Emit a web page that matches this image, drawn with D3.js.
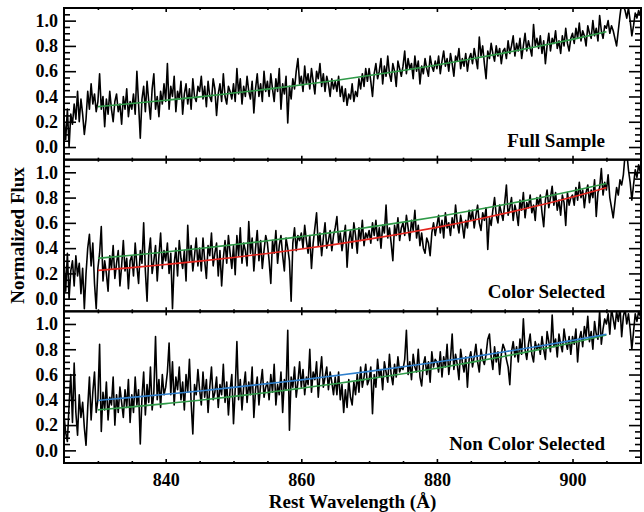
<!DOCTYPE html>
<html>
<head>
<meta charset="utf-8">
<script src="https://cdn.jsdelivr.net/npm/d3@7"></script>
<style>
  body { margin: 0; background: #fff; }
  svg { display: block; }
</style>
</head>
<body>
<svg id="chart" width="644" height="512"></svg>
<script>
// Stacked composite spectra: wavelength grid starts at 825 Å with 0.25 Å bins
const waveStart = 825;
const waveStep = 0.25;

const fullFlux = [
  0.22,0.06,0.30,0.00,0.26,0.18,0.34,0.22,0.44,0.20,0.38,0.26,0.10,0.22,0.44,0.30,0.50,0.34,0.42,0.28,
  0.36,0.58,0.30,0.40,0.16,0.38,0.26,0.44,0.30,0.20,0.36,0.42,0.28,0.34,0.18,0.40,0.30,0.46,0.24,0.36,
  0.30,0.42,0.26,0.60,0.34,0.07,0.38,0.48,0.28,0.52,0.36,0.22,0.46,0.58,0.30,0.40,0.24,0.44,0.34,0.50,
  0.36,0.66,0.30,0.48,0.40,0.56,0.28,0.44,0.38,0.52,0.26,0.42,0.50,0.34,0.46,0.30,0.54,0.40,0.36,0.48,
  0.44,0.56,0.38,0.48,0.32,0.52,0.40,0.36,0.54,0.46,0.25,0.42,0.50,0.36,0.58,0.40,0.34,0.48,0.44,0.38,
  0.50,0.36,0.62,0.42,0.54,0.34,0.48,0.40,0.56,0.44,0.38,0.52,0.27,0.46,0.58,0.40,0.50,0.36,0.60,0.44,
  0.52,0.40,0.58,0.46,0.36,0.54,0.44,0.62,0.30,0.50,0.42,0.56,0.19,0.48,0.38,0.54,0.46,0.60,0.70,0.50,
  0.56,0.44,0.64,0.50,0.58,0.46,0.62,0.52,0.42,0.60,0.54,0.66,0.48,0.58,0.44,0.56,0.50,0.40,0.54,0.46,
  0.52,0.44,0.56,0.40,0.48,0.36,0.46,0.33,0.42,0.38,0.50,0.36,0.44,0.40,0.54,0.46,0.58,0.48,0.62,0.52,
  0.62,0.52,0.40,0.58,0.66,0.54,0.60,0.70,0.50,0.64,0.56,0.72,0.58,0.52,0.66,0.60,0.48,0.68,0.62,0.56,
  0.64,0.76,0.58,0.70,0.62,0.66,0.54,0.72,0.60,0.68,0.50,0.64,0.58,0.70,0.62,0.56,0.72,0.64,0.60,0.68,
  0.62,0.72,0.58,0.68,0.76,0.64,0.70,0.60,0.74,0.66,0.56,0.72,0.68,0.78,0.62,0.70,0.64,0.74,0.60,0.70,
  0.74,0.66,0.78,0.70,0.62,0.87,0.72,0.80,0.66,0.54,0.76,0.70,0.82,0.74,0.68,0.80,0.72,0.78,0.66,0.76,
  0.78,0.70,0.84,0.74,0.80,0.88,0.72,0.82,0.76,0.86,0.70,0.80,0.90,0.76,0.84,0.78,0.72,0.97,0.80,0.86,
  0.78,0.88,0.74,0.84,0.66,0.80,0.90,0.76,0.86,0.82,0.92,0.78,0.84,0.74,0.88,0.80,0.94,0.82,0.76,0.86,
  0.90,0.82,0.94,0.86,0.98,0.84,0.92,0.88,0.80,0.96,0.90,0.86,1.00,0.88,0.94,0.84,1.04,0.92,0.86,0.96,
  0.94,1.00,0.90,0.96,0.92,0.86,0.80,0.92,1.04,1.14,1.12,1.08,1.02,1.10,1.00,0.88,0.96,1.06,1.02,1.08,
  1.04
];

const colorFlux = [
  0.30,0.06,0.36,0.00,0.22,0.30,0.10,0.34,0.18,0.28,0.04,0.24,-0.08,0.20,0.40,0.51,0.26,0.44,0.12,-0.08,
  0.24,0.36,0.57,0.14,0.30,0.20,0.06,0.34,0.24,0.42,0.16,0.28,0.38,0.10,0.26,0.46,0.22,0.32,0.08,0.30,
  0.34,0.18,0.44,0.26,0.12,0.38,0.28,0.60,0.22,-0.02,0.36,0.48,0.20,0.30,0.42,0.14,0.34,0.52,0.24,0.38,
  0.30,0.44,0.20,0.36,-0.08,0.28,0.40,0.18,0.46,0.32,0.24,0.38,0.14,0.58,0.30,0.42,0.22,0.34,0.48,0.26,
  0.40,0.22,0.48,0.30,0.16,0.42,0.34,0.52,0.26,0.36,0.44,0.18,0.38,0.10,0.32,0.46,0.28,0.50,0.36,0.24,
  0.42,0.19,0.50,0.34,0.56,0.28,0.44,0.38,0.26,0.61,0.36,0.48,0.22,0.40,0.54,0.30,0.46,0.24,0.38,0.50,
  0.44,0.30,0.12,0.46,0.36,0.54,0.28,0.42,0.50,0.34,0.22,0.48,0.40,0.30,-0.02,0.44,0.56,0.38,0.50,0.46,
  0.52,0.40,0.58,0.46,0.36,0.50,0.24,0.44,0.56,0.68,0.42,0.52,0.34,0.48,0.60,0.40,0.46,0.54,0.38,0.50,
  0.56,0.65,0.44,0.52,0.38,0.48,0.58,0.25,0.46,0.54,0.40,0.60,0.50,0.36,0.56,0.46,0.62,0.42,0.52,0.48,
  0.54,0.44,0.60,0.50,0.62,0.46,0.56,0.40,0.58,0.52,0.74,0.48,0.56,0.44,0.30,0.58,0.50,0.64,0.46,0.56,
  0.60,0.50,0.66,0.56,0.46,0.62,0.54,0.70,0.48,0.58,0.42,0.52,0.40,0.36,0.48,0.44,0.34,0.52,0.60,0.50,
  0.58,0.66,0.52,0.62,0.48,0.68,0.56,0.60,0.50,0.64,0.56,0.74,0.60,0.52,0.66,0.58,0.48,0.62,0.56,0.70,
  0.62,0.70,0.56,0.66,0.74,0.60,0.54,0.68,0.62,0.72,0.39,0.64,0.58,0.70,0.80,0.66,0.60,0.74,0.68,0.62,
  0.76,0.90,0.66,0.72,0.80,0.62,0.74,0.68,0.58,0.78,0.70,0.84,0.64,0.76,0.72,0.82,0.68,0.74,0.62,0.80,
  0.74,0.82,0.68,0.57,0.78,0.86,0.72,0.80,0.89,0.74,0.84,0.70,0.78,0.66,0.82,0.76,0.58,0.84,0.74,0.80,
  0.82,0.74,0.88,0.78,0.92,0.80,0.86,0.72,0.84,0.90,0.76,0.86,0.80,0.94,0.65,0.84,0.88,1.03,0.82,0.92,
  0.86,0.98,0.80,0.72,0.64,0.76,0.88,0.82,0.94,0.90,0.98,1.14,1.16,1.02,0.92,0.78,0.90,1.02,0.96,1.06,
  1.00
];

const nonColorFlux = [
  0.28,0.14,0.07,0.36,0.60,0.22,0.69,0.30,0.12,0.44,0.26,0.38,0.18,0.04,0.34,0.58,0.24,0.46,0.62,0.30,
  0.40,0.84,0.15,0.46,0.32,0.54,0.24,0.42,0.36,0.58,0.20,0.44,0.30,0.50,0.38,0.26,0.48,0.34,0.56,0.22,
  0.44,0.30,0.58,0.36,0.48,0.05,0.42,0.62,0.28,0.52,0.38,0.66,0.32,0.46,0.90,0.40,0.56,0.34,0.60,0.44,
  0.50,0.62,0.85,0.44,0.70,0.36,0.58,0.48,0.66,0.40,0.54,0.32,0.60,0.46,0.72,0.38,0.13,0.52,0.44,0.64,
  0.48,0.36,0.62,0.42,0.56,0.30,0.50,0.66,0.40,0.46,0.58,0.34,0.52,0.44,0.68,0.38,0.54,0.28,0.48,0.60,
  0.21,0.48,0.86,0.40,0.56,0.32,0.50,0.62,0.38,0.54,0.44,0.66,0.26,0.48,0.58,0.36,0.52,0.64,0.42,0.50,
  0.54,0.40,0.60,0.46,0.68,0.36,0.52,0.44,0.62,0.30,0.56,0.48,0.95,0.16,0.58,0.50,0.66,0.42,0.54,0.70,
  0.50,0.64,0.44,0.58,0.52,0.80,0.46,0.62,0.56,0.70,0.42,0.60,0.74,0.50,0.58,0.66,0.48,0.62,0.54,0.44,
  0.58,0.44,0.62,0.40,0.52,0.30,0.48,0.34,0.56,0.42,0.36,0.54,0.44,0.60,0.46,0.66,0.50,0.58,0.68,0.52,
  0.56,0.66,0.29,0.60,0.50,0.72,0.58,0.64,0.48,0.70,0.62,0.54,0.76,0.60,0.52,0.68,0.58,0.74,0.62,0.66,
  0.64,0.72,0.95,0.60,0.70,0.56,0.76,0.66,0.62,0.80,0.58,0.51,0.68,0.74,0.60,0.70,0.54,0.78,0.66,0.72,
  0.70,0.62,0.78,0.58,0.74,0.66,0.84,0.60,0.72,0.92,0.64,0.76,0.68,0.56,0.80,0.70,0.62,0.74,0.50,0.72,
  0.78,0.66,0.74,0.84,0.70,0.62,0.80,0.72,0.68,0.76,0.88,0.92,0.74,0.64,0.82,0.70,0.78,0.60,0.76,0.84,
  0.80,0.72,0.66,0.52,0.78,0.86,0.74,0.82,0.70,0.88,0.76,1.04,0.80,0.72,0.84,0.92,0.76,0.70,0.86,0.80,
  0.84,0.76,0.90,0.80,0.72,0.94,0.86,0.78,1.07,0.82,0.88,0.74,0.92,0.84,0.78,0.96,0.86,0.80,0.90,0.76,
  0.90,0.84,0.96,0.70,0.88,0.94,0.82,0.98,0.90,1.06,0.86,0.94,0.80,1.02,0.92,0.88,1.10,0.84,0.96,1.04,
  1.00,1.08,0.92,1.12,1.04,0.96,1.10,1.02,1.14,0.90,1.06,1.12,1.00,1.08,0.96,0.80,0.94,1.08,1.02,1.10,
  1.06
];

// Continuum fits, sampled every 5 Å
const fitWave     = [830,835,840,845,850,855,860,865,870,875,880,885,890,895,900,905];
const fitAll      = [0.320,0.344,0.370,0.397,0.427,0.458,0.492,0.527,0.566,0.606,0.649,0.696,0.745,0.797,0.852,0.912];
const fitColor    = [0.224,0.246,0.271,0.297,0.326,0.358,0.393,0.430,0.471,0.516,0.564,0.617,0.675,0.737,0.805,0.879];
const fitNonColor = [0.395,0.419,0.444,0.470,0.498,0.528,0.558,0.591,0.625,0.661,0.699,0.738,0.780,0.824,0.870,0.918];

const panelLabels = ["Full Sample", "Color Selected", "Non Color Selected"];
const yMajorTicks = [0, 0.2, 0.4, 0.6, 0.8, 1.0];
const xMajorTicks = [840, 860, 880, 900];

const GREEN = "#2f9a48", RED = "#e3251e", BLUE = "#2f7fcc";
const FONT = "'Liberation Serif','Times New Roman',Times,serif";

const svg = d3.select("#chart");
const plotLeft = 64, plotRight = 641, plotTop = 8, plotBottom = 463;
const panelH = (plotBottom - plotTop) / 3;

const x = d3.scaleLinear().domain([825, 910.1]).range([plotLeft, plotRight]);

const yMinor = d3.range(-0.05, 1.0501, 0.05).map(v => +v.toFixed(2)).filter(v => !yMajorTicks.includes(v));
const xMinor = d3.range(830, 910.01, 5).filter(v => !xMajorTicks.includes(v));

const panels = [
  { flux: fullFlux,     label: panelLabels[0], fits: [{ v: fitAll, c: GREEN }] },
  { flux: colorFlux,    label: panelLabels[1], fits: [{ v: fitAll, c: GREEN }, { v: fitColor, c: RED }] },
  { flux: nonColorFlux, label: panelLabels[2], fits: [{ v: fitAll, c: GREEN }, { v: fitNonColor, c: BLUE }] }
];

function styleAxis(g, size) {
  g.select(".domain").remove();
  g.selectAll("line").attr("stroke", "#000").attr("stroke-width", 1.6);
  g.selectAll("text")
    .attr("font-family", FONT).attr("font-size", size).attr("font-weight", "bold").attr("fill", "#000");
}

panels.forEach((p, i) => {
  const y0 = plotTop + i * panelH;
  const y = d3.scaleLinear().domain([-0.1, 1.1]).range([y0 + panelH, y0]);
  const g = svg.append("g");

  const clipId = "clip" + i;
  svg.append("clipPath").attr("id", clipId)
    .append("rect").attr("x", plotLeft).attr("y", y0).attr("width", plotRight - plotLeft).attr("height", panelH);

  const pts = p.flux.map((f, k) => ({ w: waveStart + k * waveStep, f }));
  const line = d3.line().x(d => x(d.w)).y(d => y(d.f));

  g.append("path").datum(pts)
    .attr("clip-path", `url(#${clipId})`)
    .attr("d", line)
    .attr("fill", "none").attr("stroke", "#000").attr("stroke-width", 1.6).attr("stroke-linejoin", "round");

  const fitLine = d3.line().curve(d3.curveMonotoneX).x(d => x(d[0])).y(d => y(d[1]));
  p.fits.forEach(fit => {
    g.append("path").datum(fitWave.map((w, k) => [w, fit.v[k]]))
      .attr("d", fitLine)
      .attr("fill", "none").attr("stroke", fit.c).attr("stroke-width", 1.6);
  });

  // left axis: labelled majors plus minors, ticks pointing into the panel
  g.append("g").attr("transform", `translate(${plotLeft},0)`)
    .call(d3.axisLeft(y).tickValues(yMajorTicks).tickSize(-12).tickPadding(6).tickFormat(d3.format(".1f")))
    .call(a => styleAxis(a, 18));
  g.append("g").attr("transform", `translate(${plotLeft},0)`)
    .call(d3.axisLeft(y).tickValues(yMinor).tickSize(-6).tickFormat(""))
    .call(a => styleAxis(a, 18));
  // right axis mirrors the ticks
  g.append("g").attr("transform", `translate(${plotRight},0)`)
    .call(d3.axisRight(y).tickValues(yMajorTicks).tickSize(-12).tickFormat(""))
    .call(a => styleAxis(a, 18));
  g.append("g").attr("transform", `translate(${plotRight},0)`)
    .call(d3.axisRight(y).tickValues(yMinor).tickSize(-6).tickFormat(""))
    .call(a => styleAxis(a, 18));

  // bottom and top wavelength ticks
  const showX = i === panels.length - 1;
  g.append("g").attr("transform", `translate(0,${y0 + panelH})`)
    .call(d3.axisBottom(x).tickValues(xMajorTicks).tickSize(-4).tickPadding(10)
      .tickFormat(showX ? d3.format("d") : ""))
    .call(a => styleAxis(a, 18));
  g.append("g").attr("transform", `translate(0,${y0 + panelH})`)
    .call(d3.axisBottom(x).tickValues(xMinor).tickSize(-2).tickFormat(""))
    .call(a => styleAxis(a, 18));
  g.append("g").attr("transform", `translate(0,${y0})`)
    .call(d3.axisTop(x).tickValues(xMajorTicks).tickSize(-4).tickFormat(""))
    .call(a => styleAxis(a, 18));
  g.append("g").attr("transform", `translate(0,${y0})`)
    .call(d3.axisTop(x).tickValues(xMinor).tickSize(-2).tickFormat(""))
    .call(a => styleAxis(a, 18));

  g.append("rect")
    .attr("x", plotLeft).attr("y", y0).attr("width", plotRight - plotLeft).attr("height", panelH)
    .attr("fill", "none").attr("stroke", "#000").attr("stroke-width", 2);

  g.append("text")
    .attr("x", 605).attr("y", y0 + panelH - 13)
    .attr("text-anchor", "end")
    .attr("font-family", FONT).attr("font-size", 19).attr("font-weight", "bold")
    .text(p.label);
});

svg.append("text")
  .attr("transform", `translate(24,${(plotTop + plotBottom) / 2}) rotate(-90)`)
  .attr("text-anchor", "middle")
  .attr("font-family", FONT).attr("font-size", 19).attr("font-weight", "bold")
  .text("Normalized Flux");

svg.append("text")
  .attr("x", (plotLeft + plotRight) / 2).attr("y", 508)
  .attr("text-anchor", "middle")
  .attr("font-family", FONT).attr("font-size", 19).attr("font-weight", "bold")
  .text("Rest Wavelength (Å)");
</script>
</body>
</html>
